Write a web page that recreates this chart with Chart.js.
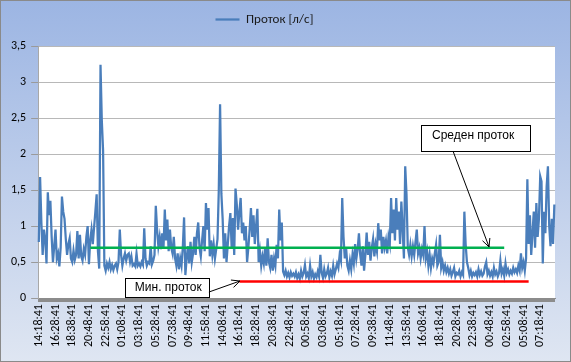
<!DOCTYPE html>
<html><head><meta charset="utf-8">
<script src="https://cdn.jsdelivr.net/npm/chart.js@4/dist/chart.umd.min.js"></script>
<style>html,body{margin:0;padding:0;background:#fff}#wrap{width:571px;height:362px;position:relative}</style>
</head><body><div id="wrap"><canvas id="c" width="571" height="362"></canvas></div>
<script>
const tickLabels = ['14:18:41','16:28:41','18:38:41','20:48:41','22:58:41','01:08:41','03:18:41','05:28:41','07:38:41','09:48:41','11:58:41','14:08:41','16:18:41','18:28:41','20:38:41','22:48:41','00:58:41','03:08:41','05:18:41','07:28:41','09:38:41','11:48:41','13:58:41','16:08:41','18:18:41','20:28:41','22:38:41','00:48:41','02:58:41','05:08:41','07:18:41'];

// flow [l/s], one value every 10 minutes
const flow = [
0.78,1.68,1.05,0.6,0.95,0.82,0.48,1.47,1.15,1.35,
0.85,0.5,0.72,0.95,0.55,0.62,0.44,0.7,1.41,1.2,
1.1,0.82,0.6,0.75,0.83,0.55,0.5,0.66,0.53,0.6,
0.93,0.55,0.88,0.58,0.52,0.68,0.6,0.85,1.0,0.47,
0.8,0.95,0.75,0.98,1.2,1.44,0.65,0.41,3.24,2.47,
2.05,0.45,0.38,0.48,0.42,0.5,0.4,0.46,0.39,0.45,
0.48,0.4,0.5,0.95,0.6,0.45,0.55,0.62,0.52,0.6,
0.62,0.5,0.58,0.45,0.47,0.44,0.62,0.45,0.48,0.44,
0.5,0.46,0.97,0.55,0.45,0.5,0.48,0.72,0.47,0.52,
0.6,1.28,0.95,0.72,0.85,0.68,0.9,0.7,1.23,0.8,
1.09,0.65,0.95,0.7,0.62,0.85,0.55,0.45,0.62,0.4,
0.55,0.45,0.7,1.12,0.32,0.55,0.72,0.48,0.78,0.5,
0.62,0.85,0.6,0.9,1.05,0.7,0.58,0.8,1.0,0.65,
1.32,0.95,1.25,0.58,0.8,0.6,0.75,0.55,0.68,0.82,
1.5,2.69,1.45,1.1,0.55,0.9,0.5,0.75,1.0,1.18,
0.7,1.11,0.6,1.52,1.3,0.95,1.2,1.39,0.9,1.05,
0.8,1.0,0.5,0.7,0.95,1.25,0.85,1.15,0.75,1.0,
1.24,0.5,0.65,0.45,0.58,0.48,0.7,0.45,0.83,0.5,
0.42,0.6,0.38,0.55,0.45,0.74,0.55,1.23,0.8,1.05,
0.37,0.32,0.38,0.3,0.35,0.29,0.36,0.31,0.34,0.3,
0.36,0.28,0.33,0.27,0.38,0.3,0.35,0.46,0.3,0.34,
0.28,0.45,0.3,0.36,0.27,0.33,0.29,0.37,0.3,0.6,
0.35,0.28,0.4,0.3,0.34,0.42,0.29,0.37,0.31,0.45,
0.33,0.4,0.48,0.42,0.6,0.52,1.39,0.85,0.55,0.7,
0.45,0.38,0.52,0.4,0.6,0.48,0.75,0.55,0.68,0.9,
0.6,0.45,0.72,0.38,0.6,0.91,0.6,0.78,0.52,0.7,
0.82,0.58,0.75,0.65,1.04,0.8,0.95,0.62,0.85,0.7,
0.8,0.62,0.85,0.75,1.39,0.9,1.23,0.8,1.39,0.95,
1.2,0.75,1.34,0.95,0.55,1.83,1.44,0.7,0.6,0.74,
0.58,0.72,0.6,0.78,0.95,0.62,0.7,0.55,0.68,0.6,
1.0,0.55,0.65,0.45,0.6,0.42,0.55,0.48,0.62,0.74,
0.45,0.5,0.88,0.42,0.5,0.38,0.45,0.36,0.42,0.34,
0.4,0.31,0.36,0.42,0.3,0.35,0.33,0.38,0.3,0.36,
0.32,1.2,0.75,0.5,0.42,0.32,0.38,0.3,0.35,0.32,
0.36,0.3,0.4,0.32,0.37,0.31,0.34,0.44,0.5,0.33,
0.38,0.31,0.36,0.3,0.42,0.33,0.37,0.3,0.35,0.52,
0.34,0.4,0.31,0.48,0.35,0.4,0.33,0.38,0.34,0.42,
0.36,0.4,0.35,0.45,0.38,0.62,0.42,0.5,0.38,0.55,
1.65,0.75,1.15,0.6,0.9,1.2,0.7,1.32,0.85,1.1,
1.69,1.62,0.48,1.2,0.9,1.55,1.83,1.0,0.72,1.1,
0.75,1.3
];

const TICK_EVERY = 13;            // one tick label every 13 samples (130 min)
const meanFlow = 0.70, meanRange = [40, 362];   // Среден проток
const minFlow = 0.23, minRange = [156, 381];    // Мин. проток

const labels = flow.map((_, i) => (i % TICK_EVERY === 0 && tickLabels[i / TICK_EVERY]) ? tickLabels[i / TICK_EVERY] : '');
const meanLine = flow.map((_, i) => (i >= meanRange[0] && i <= meanRange[1]) ? meanFlow : null);
const minLine = flow.map((_, i) => (i >= minRange[0] && i <= minRange[1]) ? minFlow : null);

// callouts in data coordinates: box [x1,y1,x2,y2], text anchor, arrow from -> to
const notes = [
  {text:'Среден проток', box:[297.3, 2.41, 382.1, 2.04], at:[305.8, 2.26], from:[322.2, 2.04], to:[350.2, 0.71]},
  {text:'Мин. проток', box:[66.9, 0.28, 132.3, 0.014], at:[74.7, 0.15], from:[132.3, 0.084], to:[156.4, 0.237]}
];

const FONT = 'Carlito, Lato, "Noto Sans", sans-serif';

const bg = {
  id:'bg',
  beforeDraw(chart){
    const {ctx, width, height, chartArea:a} = chart;
    ctx.save();
    const g = ctx.createLinearGradient(0,0,0,height);
    g.addColorStop(0,'#9cb5e3'); g.addColorStop(1,'#dfe6f2');
    ctx.fillStyle = g; ctx.fillRect(0,0,width,height);
    ctx.strokeStyle = '#8a8a8a'; ctx.lineWidth = 1; ctx.strokeRect(0.5,0.5,width-1,height-1);
    ctx.fillStyle = '#fff'; ctx.fillRect(a.left,a.top,a.right-a.left,a.bottom-a.top);
    ctx.restore();
  }
};

// extra space below the legend (items keep their position), legend block nudged left
const legendGap = {
  id:'legendGap',
  beforeInit(chart){
    const fit = chart.legend.fit;
    chart.legend.fit = function(){ fit.call(this); this.height += 10; };
  },
  afterLayout(chart){
    chart.legend.left -= 16; chart.legend.right -= 16;
  }
};

const callouts = {
  id:'callouts',
  afterDatasetsDraw(chart){
    const {ctx, scales:{x, y}} = chart;
    const px = v => x.getPixelForValue(v), py = v => y.getPixelForValue(v);
    ctx.save();
    notes.forEach(n => {
      const x1 = Math.round(px(n.box[0]))+0.5, y1 = Math.round(py(n.box[1]))+0.5;
      const x2 = Math.round(px(n.box[2]))+0.5, y2 = Math.round(py(n.box[3]))+0.5;
      ctx.fillStyle = '#fff'; ctx.fillRect(x1,y1,x2-x1,y2-y1);
      ctx.strokeStyle = '#000'; ctx.lineWidth = 1; ctx.strokeRect(x1,y1,x2-x1,y2-y1);
      ctx.fillStyle = '#000'; ctx.font = '12px "Liberation Sans", Arial, sans-serif';
      ctx.textBaseline = 'middle'; ctx.textAlign = 'left';
      ctx.fillText(n.text, px(n.at[0]), py(n.at[1]));
      const fx = px(n.from[0]), fy = py(n.from[1]), tx = px(n.to[0]), ty = py(n.to[1]);
      ctx.beginPath(); ctx.moveTo(fx,fy); ctx.lineTo(tx,ty); ctx.stroke();
      const ang = Math.atan2(ty-fy, tx-fx), L = 9, s = 0.45;
      ctx.beginPath();
      ctx.moveTo(tx - L*Math.cos(ang-s), ty - L*Math.sin(ang-s));
      ctx.lineTo(tx,ty);
      ctx.lineTo(tx - L*Math.cos(ang+s), ty - L*Math.sin(ang+s));
      ctx.stroke();
    });
    ctx.restore();
  }
};

new Chart(document.getElementById('c'), {
  type:'line',
  data:{labels, datasets:[
    {label:'Проток [л/с]', data:flow, borderColor:'#4a7ebb', backgroundColor:'#4a7ebb', borderWidth:2.25, pointRadius:0, tension:0, order:2},
    {label:'mean', data:meanLine, borderColor:'#00b050', backgroundColor:'#00b050', borderWidth:2.5, pointRadius:0, order:1},
    {label:'min', data:minLine, borderColor:'#ff0000', backgroundColor:'#ff0000', borderWidth:2.5, pointRadius:0, order:1}
  ]},
  options:{
    responsive:false, animation:false, devicePixelRatio:1,
    layout:{padding:{left:6, right:16, top:5, bottom:13}},
    plugins:{
      legend:{position:'top', labels:{filter:item => item.datasetIndex === 0, usePointStyle:true, pointStyle:'line', pointStyleWidth:24, color:'#1a1a1a', font:{family:FONT, size:13}, padding:8}},
      tooltip:{enabled:false}
    },
    scales:{
      x:{type:'category', offset:true,
         grid:{drawOnChartArea:false, drawTicks:true, tickLength:4, color:'#8c8c8c', lineWidth:2},
         border:{color:'#8c8c8c', width:1},
         ticks:{autoSkip:false, minRotation:90, maxRotation:90, padding:2, color:'#000', font:{family:FONT, size:12}}},
      y:{min:0, max:3.5,
         ticks:{stepSize:0.5, callback:v => String(v).replace('.', ','), color:'#000', font:{family:FONT, size:12}, padding:5},
         grid:{color:'#b8b8b8', lineWidth:1, tickLength:7, tickColor:'#9a9a9a'},
         border:{color:'#a8a8a8'}}
    }
  },
  plugins:[bg, legendGap, callouts]
});
</script></body></html>
